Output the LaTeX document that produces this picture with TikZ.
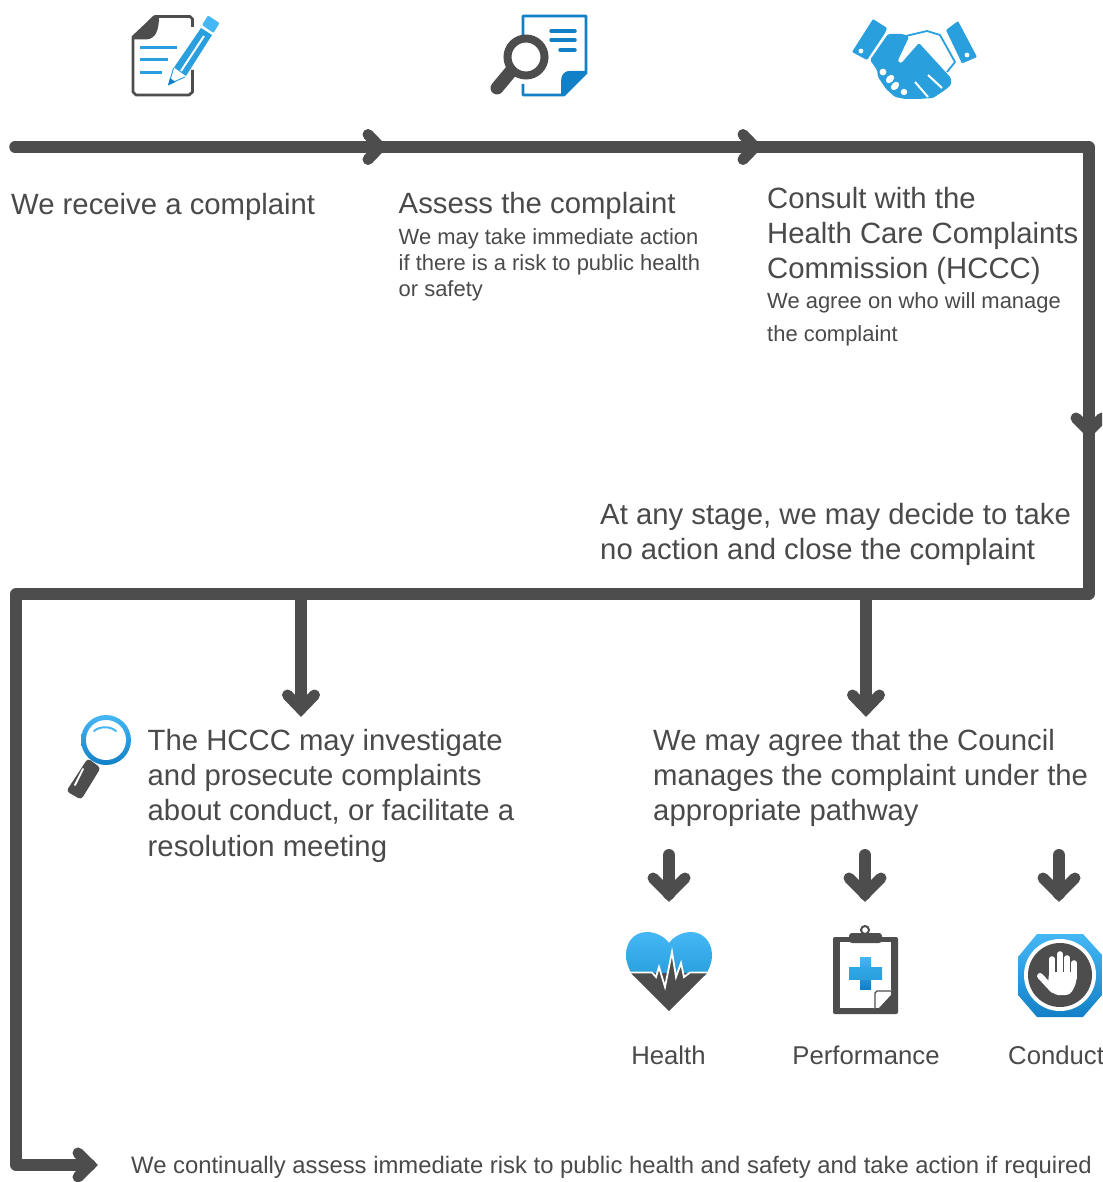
\documentclass[tikz,border=0pt]{standalone}
\usepackage{fontspec}
\usetikzlibrary{calc}
\setmainfont{Liberation Sans}
\definecolor{ink}{HTML}{4D4D4D}
\definecolor{txt}{HTML}{4A4A4A}
\definecolor{sky}{HTML}{29A0DD}
\definecolor{lite}{HTML}{45B7F5}
\definecolor{deep}{HTML}{1280C6}
\newcommand{\topfix}{\rule{0pt}{30pt}}
\tikzset{
  big/.style={anchor=north west,inner sep=0pt,align=left,text=txt,font=\fontsize{29.3}{35.3}\selectfont},
  small/.style={anchor=north west,inner sep=0pt,align=left,text=txt,font=\fontsize{21.95}{26.2}\selectfont},
  label/.style={anchor=north west,inner sep=0pt,text=txt,font=\fontsize{25.7}{30}\selectfont},
  flow/.style={draw=ink,line width=11.5pt,line join=round,line cap=round},
  shaft/.style={draw=ink,line width=11.5pt},
  stub/.style={draw=ink,line width=12pt,line cap=round},
  chev/.style={draw=ink,line width=11pt,line cap=round,line join=miter},
  grad/.style={top color=lite,bottom color=deep,draw=none},
  blueline/.style={draw=sky,line width=3pt},
}
\begin{document}
\begin{tikzpicture}[x=1pt,y=-1pt]
\clip (0,0) rectangle (1102,1182);
\fill[white] (0,0) rectangle (1102,1182);

% --- coordinates
\coordinate (s) at (15,147);
\coordinate (c1) at (380,147);
\coordinate (c2) at (755,147);
\coordinate (t1) at (1089,147);
\coordinate (c3) at (1089,431);
\coordinate (t2) at (1089,594);
\coordinate (t3) at (16,594);
\coordinate (t4) at (16,1165);
\coordinate (c4) at (90,1165);
\coordinate (b1) at (301,594);
\coordinate (v1) at (301,709);
\coordinate (b2) at (866,594);
\coordinate (v2) at (866,709);
\coordinate (h1) at (669,855);
\coordinate (hv) at (669,894);
\coordinate (p1) at (865,855);
\coordinate (pv) at (865,894);
\coordinate (q1) at (1059,855);
\coordinate (qv) at (1059,894);

% --- connectors
\draw[flow] (s) -- (t1) -- (t2) -- (t3) -- (t4) -- (c4);
\draw[shaft] (b1) -- (v1);
\draw[shaft] (b2) -- (v2);
\draw[stub] (h1) -- (hv);
\draw[stub] (p1) -- (pv);
\draw[stub] (q1) -- (qv);
\draw[chev] ($(c1)+(-12,-12.5)$) -- (c1) -- ($(c1)+(-12,12.5)$);
\draw[chev] ($(c2)+(-12,-12.5)$) -- (c2) -- ($(c2)+(-12,12.5)$);
\draw[chev] ($(c3)+(-13,-13)$) -- (c3) -- ($(c3)+(13,-13)$);
\draw[chev] ($(c4)+(-12,-12)$) -- (c4) -- ($(c4)+(-12,12)$);
\draw[chev] ($(v1)+(-13.5,-14)$) -- (v1) -- ($(v1)+(13.5,-14)$);
\draw[chev] ($(v2)+(-13.5,-14)$) -- (v2) -- ($(v2)+(13.5,-14)$);
\draw[chev] ($(hv)+(-16,-16)$) -- (hv) -- ($(hv)+(16,-16)$);
\draw[chev] ($(pv)+(-16,-16)$) -- (pv) -- ($(pv)+(16,-16)$);
\draw[chev] ($(qv)+(-16,-16)$) -- (qv) -- ($(qv)+(16,-16)$);

% --- texts (rule makes first baseline = y + 30)
\node[big] (t-receive) at (11,184) {\topfix We receive a complaint};
\node[big] (t-assess) at (398.5,183) {\topfix Assess the complaint};
\node[small] (t-assess2) at (398.5,214) {\topfix We may take immediate action\\if there is a risk to public health\\or safety};
\node[big] (t-consult) at (767,178) {\topfix Consult with the\\Health Care Complaints\\Commission (HCCC)};
\node[small,font=\fontsize{21.95}{33}\selectfont] (t-consult2) at (767,278) {\topfix We agree on who will manage\\the complaint};
\node[big] (t-stage) at (600,494) {\topfix At any stage, we may decide to take\\no action and close the complaint};
\node[big] (t-hccc) at (147.5,720) {\topfix The HCCC may investigate\\and prosecute complaints\\about conduct, or facilitate a\\resolution meeting};
\node[big] (t-agree) at (653,720) {\topfix We may agree that the Council\\manages the complaint under the\\appropriate pathway};
\node[label,anchor=north] (t-health) at (668.5,1034) {\topfix Health};
\node[label,anchor=north] (t-perf) at (866,1034) {\topfix Performance};
\node[label] (t-cond) at (1008,1034) {\topfix Conduct};
\node[label,font=\fontsize{23.85}{28}\selectfont] (t-risk) at (131,1143) {\topfix We continually assess immediate risk to public health and safety and take action if required};

% --- icon: document and pencil
\draw[draw=ink,line width=2.8pt,line join=round] (192.5,27) -- (192.5,19) -- (190,16.5) -- (155,16.5) -- (133,37) -- (133,92) -- (136,95) -- (189,95) -- (192.5,92) -- (192.5,70);
\fill[ink] (132,38) -- (153,16) -- (159,16) .. controls (159,30) and (156,39) .. (146,39.5) -- (132,39.5) -- cycle;
\draw[blueline] (140,48) -- (177,48);
\draw[blueline] (140,60) -- (168,60);
\draw[blueline] (140,73) -- (162,73);
\fill[lite,rounded corners=1pt] (208,15.5) -- (219.5,23) -- (213.5,33) -- (202,25) -- cycle;
\fill[sky] (201,28) -- (212,35) -- (186,76) -- (174,67.5) -- cycle;
\draw[white,line width=2pt] (204,36) -- (181,71);
\fill[white] (174,70) -- (184,77) -- (172,83) -- cycle;
\draw[sky,line width=1pt] (173.5,68) -- (169,84) -- (185,77);
\fill[deep] (168,85.5) -- (170,78) -- (175.5,82) -- cycle;

% --- icon: document and magnifier
\draw[draw=deep,line width=2.8pt,line join=round] (523,36) -- (523,16) -- (586,16) -- (586,73) -- (564,95) -- (523,95) -- (523,84);
\fill[deep] (561,95) -- (564,95) -- (586,73) -- (586,71) -- (570,71) .. controls (563,71) and (561,76) .. (561,82) -- cycle;
\draw[deep,line width=3.5pt,line cap=round] (551,31) -- (575,31);
\draw[deep,line width=3.5pt,line cap=round] (551,40) -- (575,40);
\draw[deep,line width=3.5pt,line cap=round] (560,50) -- (575,50);
\draw[ink,line width=13pt,line cap=round] (512,70) -- (497,88);
\draw[ink,line width=8pt,fill=white] (526,57) circle (18.5);

% --- icon: handshake
\fill[sky,rounded corners=1pt] (873,19) -- (887,28) -- (885,33) -- (867,60) -- (852,52) -- cycle;
\fill[white] (861,51) circle (2.4);
\fill[sky,rounded corners=1pt] (958,21) -- (977,57) -- (962,63.5) -- (946,30) -- cycle;
\fill[white] (967,55) circle (2.4);
\draw[sky,line width=1.8pt,line join=round] (906,36) -- (927,31) -- (940,35) -- (955,62) -- (947,72);
\fill[sky,rounded corners=1.5pt] (870,60) -- (888,34) -- (903,34) -- (909,37) -- (898,60) .. controls (899,64) and (902,63) .. (904,60) -- (919,43) -- (951,78) -- (951,85) -- (945,90) -- (933,98) -- (918,99) -- (905,99) -- (895,97) -- (886,89) -- (878,77) -- (877,70) -- cycle;
\draw[white,line width=2pt] (915,82) -- (928,97);
\draw[white,line width=2pt] (928,75) -- (942,88);
\fill[white] (883,72) circle (3.4);
\fill[white,rotate around={45:(890,79)}] (890,79) ellipse (4.8 and 3.4);
\fill[white,rotate around={45:(895,86)}] (895,86) ellipse (4.8 and 3.4);
\fill[white] (904,92) circle (3.2);

% --- icon: magnifier
\draw[ink,line width=1pt,fill=ink,rounded corners=3pt] (88,759) -- (100,768) -- (81,799) -- (67,791) -- cycle;
\draw[white,line width=2pt,line cap=round] (83,769) -- (75,785);
\shade[grad] (106,740) circle (25);
\fill[white] (106,740) circle (20);
\draw[lite,line width=2pt,line cap=round] (94,731) .. controls (100,726) and (110,726) .. (116,731);

% --- icon: heart
\begin{scope}
\clip (669,943) .. controls (664,936) and (655,932) .. (647,932) .. controls (634,932) and (626,942) .. (626,955) .. controls (626,963) and (629,969) .. (632,974) -- (669,1011) -- (706,974) .. controls (709,969) and (712,963) .. (712,955) .. controls (712,942) and (703,932) .. (691,932) .. controls (683,932) and (674,936) .. (669,943) -- cycle;
\shade[top color=lite,bottom color=sky,draw=none] (620,932) rectangle (720,975);
\fill[ink] (620,973) rectangle (720,1015);
\fill[ink] (652,973) -- (656,977) -- (659,967) -- (665,987) -- (672,952) -- (676,977) -- (681,963) -- (684,977) -- (690,973) -- (690,992) -- (652,992) -- cycle;
\draw[white,line width=1.8pt,line join=miter] (620,972.5) -- (652,972.5) -- (656,977) -- (659,967) -- (665,987) -- (672,952) -- (676,977) -- (681,963) -- (684,977) -- (690,972.5) -- (720,972.5);
\end{scope}

% --- icon: clipboard
\draw[ink,line width=2pt] (865,930) circle (4);
\fill[ink,rounded corners=2pt] (833,937) rectangle (898,1014);
\fill[white] (840,942) rectangle (891,1008);
\fill[ink,rounded corners=3pt] (849,933) rectangle (882,943);
\shade[grad,top color=lite,bottom color=deep] (860,957) rectangle (871,989);
\shade[grad,top color=sky!70!lite,bottom color=sky] (849,967) rectangle (882,979);
\fill[white] (874,1009) -- (874,993) -- (877,990) -- (892,990) -- cycle;
\draw[ink,line width=1.2pt] (875,1009) -- (875,993) -- (877,991) -- (892,991);
\fill[ink] (878,1009) -- (891,995) -- (891,1009) -- cycle;

% --- icon: stop hand
\shade[grad] (1037,934) -- (1083,934) -- (1102,955) -- (1102,995) -- (1083,1017) -- (1037,1017) -- (1018,995) -- (1018,957) -- cycle;
\fill[white] (1060,975) circle (36);
\fill[ink] (1060,975) circle (32);
\draw[white,line width=5.6pt,line cap=round] (1052,976) -- (1052,959);
\draw[white,line width=5.6pt,line cap=round] (1060,976) -- (1060,954);
\draw[white,line width=5.6pt,line cap=round] (1067,976) -- (1067,958);
\draw[white,line width=5.6pt,line cap=round] (1074,978) -- (1074,963);
\fill[white,rounded corners=4pt] (1049,972) -- (1077,972) -- (1076,984) -- (1070,995) -- (1054,995) -- (1048,985) -- cycle;
\draw[white,line width=6pt,line cap=round] (1040,976) -- (1053,990);
\end{tikzpicture}
\end{document}
